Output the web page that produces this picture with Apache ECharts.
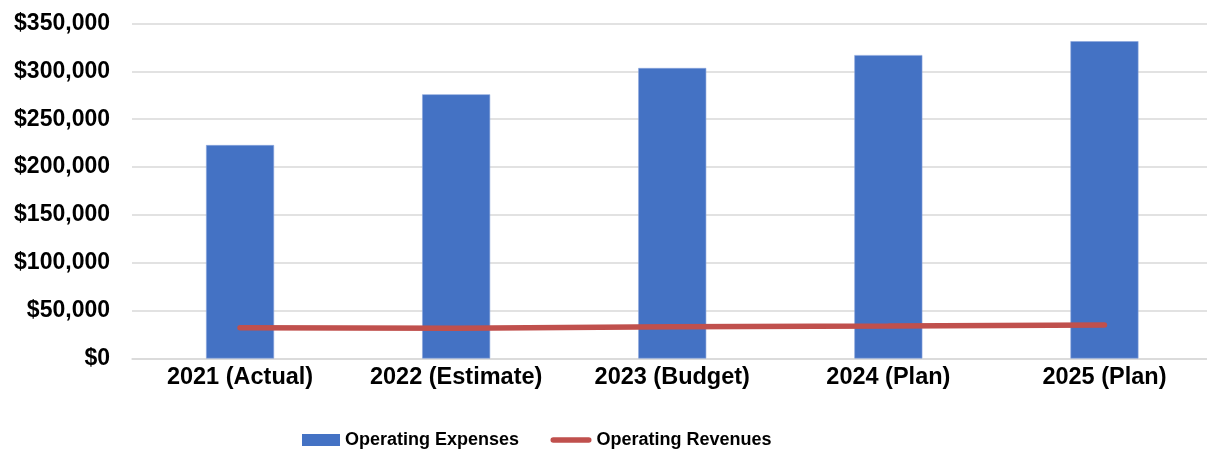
<!DOCTYPE html>
<html>
<head>
<meta charset="utf-8">
<script src="https://cdn.jsdelivr.net/npm/echarts@6/dist/echarts.min.js"></script>
<style>
html,body{margin:0;padding:0;background:#fff;}
#chart{width:1207px;height:450px;}
</style>
</head>
<body>
<div id="chart"></div>
<script>
var categories = ['2021 (Actual)', '2022 (Estimate)', '2023 (Budget)', '2024 (Plan)', '2025 (Plan)'];
var operatingExpenses = [223000, 276000, 303500, 317000, 331500];
var operatingRevenues = [32000, 31500, 33200, 34000, 35000];
var yTicks = { min: 0, max: 350000, interval: 50000 };

var font = '"Liberation Sans", Arial, sans-serif';
var legendText = { fontFamily: font, fontWeight: 'bold', fontSize: 18, color: '#000' };
var chart = echarts.init(document.getElementById('chart'), null, { renderer: 'canvas' });
chart.setOption({
  animation: false,
  backgroundColor: '#ffffff',
  grid: { left: 132, width: 1080.5, top: 23.5, bottom: 91.5, containLabel: false, outerBoundsMode: 'none' },
  legend: [
    {
      left: 297,
      top: 426,
      itemWidth: 38,
      itemHeight: 12,
      textStyle: legendText,
      itemStyle: { borderWidth: 0 },
      data: [{ name: 'Operating Expenses', icon: 'rect' }]
    },
    {
      left: 545.5,
      top: 426,
      itemWidth: 41,
      itemHeight: 5.5,
      textStyle: legendText,
      data: [{
        name: 'Operating Revenues',
        icon: 'path://M2.75,0 L38.25,0 A2.75,2.75 0 0 1 38.25,5.5 L2.75,5.5 A2.75,2.75 0 0 1 2.75,0 Z',
        itemStyle: { color: '#C0504D' }
      }]
    }
  ],
  xAxis: {
    type: 'category',
    data: categories,
    axisTick: { show: false },
    axisLine: { show: true, lineStyle: { color: '#d9d9d9', width: 1.5 } },
    axisLabel: { fontFamily: font, fontWeight: 'bold', fontSize: 23.5, color: '#000', margin: 7, interval: 0 }
  },
  yAxis: {
    type: 'value',
    min: yTicks.min,
    max: yTicks.max,
    interval: yTicks.interval,
    axisLine: { show: false },
    axisTick: { show: false },
    splitLine: { lineStyle: { color: '#d9d9d9', width: 1.5 } },
    axisLabel: {
      fontFamily: font, fontWeight: 'bold', fontSize: 23, color: '#000', margin: 22,
      formatter: function (v) { return '$' + v.toLocaleString('en-US'); }
    }
  },
  series: [
    {
      name: 'Operating Expenses',
      type: 'bar',
      data: operatingExpenses,
      barWidth: 68,
      itemStyle: { color: '#4472C4', borderColor: '#8aa5dc', borderWidth: 0.6 }
    },
    {
      name: 'Operating Revenues',
      type: 'line',
      data: operatingRevenues,
      symbol: 'none',
      lineStyle: { color: '#C0504D', width: 5.5, cap: 'round' },
      itemStyle: { color: '#C0504D' }
    }
  ]
});
</script>
</body>
</html>
